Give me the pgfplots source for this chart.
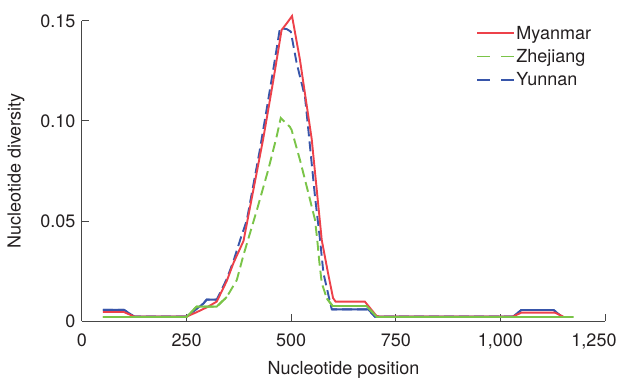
\documentclass[border=0pt]{standalone}
\usepackage{fontspec}
\setmainfont{TeX Gyre Heros}
\usepackage{pgfplots}
\pgfplotsset{compat=1.18}
\usepackage{pgfplotstable}

\definecolor{cRed}{RGB}{237,65,74}
\definecolor{cGreen}{RGB}{122,196,72}
\definecolor{cBlue}{RGB}{55,85,170}
\definecolor{axgray}{RGB}{70,70,70}
\definecolor{txt}{RGB}{35,31,32}

\pgfplotstableread{
x y
50 0.0045
100 0.0045
125 0.0022
250 0.0022
275 0.0045
300 0.0070
322 0.0097
346 0.0200
362 0.0290
386 0.0400
410 0.0660
433 0.0910
457 0.1200
477 0.1455
490 0.1490
502 0.1525
521 0.1305
549 0.0910
573 0.0405
588 0.0240
600 0.0115
606 0.0097
676 0.0097
704 0.0025
712 0.0022
1030 0.0022
1050 0.0042
1130 0.0042
1150 0.0022
}\myanmar

\pgfplotstableread{
x y
50 0.0056
100 0.0056
125 0.0022
250 0.0022
290 0.0087
298 0.0107
322 0.0107
346 0.0210
362 0.0300
378 0.0405
394 0.0505
425 0.0855
457 0.1255
473 0.1463
489 0.1460
499 0.1447
513 0.1290
533 0.1120
541 0.0955
557 0.0620
569 0.0405
577 0.0240
588 0.0138
597 0.0058
684 0.0058
700 0.0022
1030 0.0022
1050 0.0055
1127 0.0055
1147 0.0022
}\yunnan

\pgfplotstableread{
x y
50 0.0020
250 0.0020
274 0.0072
322 0.0072
346 0.0120
370 0.0205
386 0.0330
418 0.0555
445 0.0755
465 0.0920
475 0.1015
497 0.0970
501 0.0955
521 0.0805
541 0.0640
557 0.0505
563 0.0390
567 0.0300
573 0.0190
585 0.0113
599 0.0075
680 0.0075
705 0.0020
1175 0.0020
}\zhejiang

\begin{document}
\begin{tikzpicture}
\begin{axis}[
  at={(0pt,0pt)}, anchor=south west,
  scale only axis, width=523pt, height=300pt,
  xmin=0, xmax=1250, ymin=0, ymax=0.15,
  axis x line=bottom, axis y line=left,
  axis line style={-, draw=axgray, line width=1pt},
  tick align=inside,
  major tick length=7pt,
  tick style={draw=axgray, line width=1pt},
  xtick={0,250,500,750,1000,1250},
  xticklabels={0,250,500,750,{1,000},{\makebox[0pt]{\kern-22pt 1,250}}},
  ytick={0,0.05,0.10,0.15},
  yticklabels={0,0.05,0.10,0.15},
  font=\fontsize{18}{21}\selectfont,
  tick label style={font=\fontsize{18}{21}\selectfont, text=txt},
  xticklabel style={yshift=-9pt},
  yticklabel style={xshift=-3pt},
  xlabel={Nucleotide position},
  ylabel={Nucleotide diversity},
  label style={font=\fontsize{18}{21}\selectfont, text=txt},
  xlabel style={yshift=-5.5pt},
  ylabel style={yshift=9pt},
  unbounded coords=jump,
  clip=false,
  legend style={at={(rel axis cs:0.754,0.987)}, anchor=north west,
    draw=none, fill=none, inner sep=0pt,
    font=\fontsize{18}{21}\selectfont, text=txt,
    row sep=6.5pt,
    nodes={inner sep=1pt}},
  legend cell align=left,
  legend image code/.code={\draw[#1] (0pt,0pt) -- (37pt,0pt);},
]
\addplot[forget plot, cBlue, line width=1.9pt, dash pattern=on 10pt off 5pt] table[x=x,y=y] {\yunnan};
\addplot[forget plot, cBlue, line width=1.9pt, restrict y to domain=0:0.0125] table[x=x,y=y] {\yunnan};
\addplot[forget plot, cRed, line width=1.9pt] table[x=x,y=y] {\myanmar};
\addplot[forget plot, cGreen, line width=1.9pt, dash pattern=on 10pt off 5pt] table[x=x,y=y] {\zhejiang};
\addplot[forget plot, cGreen, line width=1.9pt, restrict y to domain=0:0.0125] table[x=x,y=y] {\zhejiang};

\addlegendimage{cRed, line width=1.9pt}
\addlegendentry{Myanmar}
\addlegendimage{cGreen, line width=1.9pt, dash pattern=on 13pt off 11pt}
\addlegendentry{Zhejiang}
\addlegendimage{cBlue, line width=1.9pt, dash pattern=on 13pt off 11pt}
\addlegendentry{Yunnan}
\end{axis}
\pgfresetboundingbox
\path[use as bounding box] (-82pt,-57pt) rectangle (540pt,321pt);
\end{tikzpicture}
\end{document}
